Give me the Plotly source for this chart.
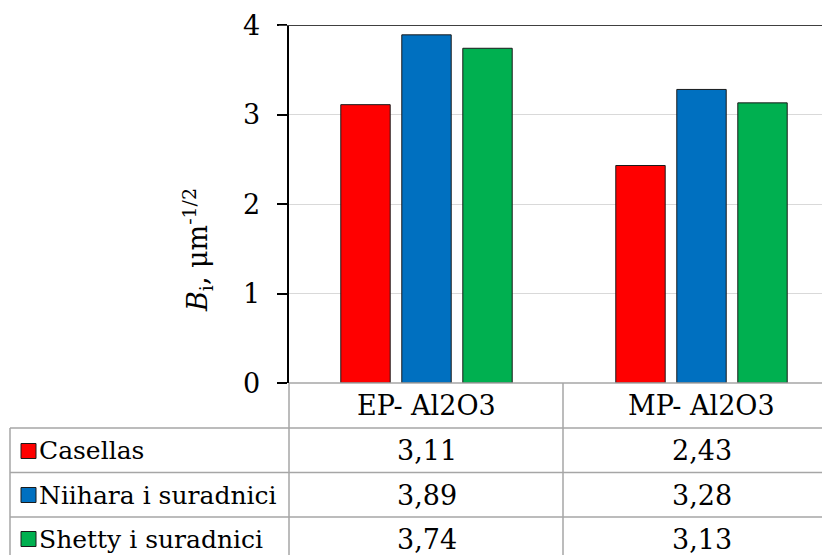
import plotly.graph_objects as go

categories = ["EP- Al2O3", "MP- Al2O3"]
series_names = ["Casellas", "Niihara i suradnici", "Shetty i suradnici"]
casellas = [3.11, 2.43]
niihara = [3.89, 3.28]
shetty = [3.74, 3.13]
series_values = [casellas, niihara, shetty]
colors = ["#FF0000", "#0070C0", "#00B050"]
y_ticks = [0, 1, 2, 3, 4]

OFF = 8  # page body margin
W, H = 830 - OFF, 555 - OFF
L, T = 289 - OFF, 25 - OFF
BOT = 383 - OFF
R = 0
B = H - BOT
PW, PH = W - L - R, H - T - B
FONT = "DejaVu Serif"
FS = 27
GRID = "#A6A6A6"

def px(x):
    return (x - OFF - L) / PW

def py(y):
    return (BOT - (y - OFF)) / PH

fig = go.Figure()
for name, vals, col in zip(series_names, series_values, colors):
    fig.add_trace(go.Bar(
        x=categories, y=vals, name=name,
        marker=dict(color=col, line=dict(color="#1a1a1a", width=1)),
        showlegend=False,
    ))

shapes = []
shapes.append(dict(type="line", xref="paper", yref="y", x0=px(279), x1=1.02, y0=4, y1=4,
                   line=dict(color="#404040", width=2)))
row_lines = [428, 472.5, 517]
for yy in row_lines:
    shapes.append(dict(type="line", xref="paper", yref="paper", x0=px(10), x1=1.02,
                       y0=py(yy), y1=py(yy), line=dict(color=GRID, width=1.5)))
shapes.append(dict(type="line", xref="paper", yref="paper", x0=px(10), x1=px(10),
                   y0=py(428), y1=py(570), line=dict(color=GRID, width=1.5)))
for xx in [289, 563]:
    shapes.append(dict(type="line", xref="paper", yref="paper", x0=px(xx), x1=px(xx),
                       y0=py(383), y1=py(570), line=dict(color=GRID, width=1.5)))
shapes.append(dict(type="line", xref="paper", yref="paper", x0=0, x1=1.02,
                   y0=0, y1=0, line=dict(color=GRID, width=1.5)))

annotations = []
tf = dict(family=FONT, size=FS, color="black")
nf = dict(family=FONT, size=25, color="black")
for t in y_ticks:
    annotations.append(dict(x=px(262), xref="paper", y=t, yref="y", text=str(t),
                            showarrow=False, font=tf, xanchor="right", yanchor="middle"))
row_centers = [451, 495, 539]
for cat in categories:
    annotations.append(dict(x=cat, xref="x", y=py(406), yref="paper", text=cat,
                            showarrow=False, font=tf, xanchor="center", yanchor="middle"))
for name, vals, col, yc in zip(series_names, series_values, colors, row_centers):
    shapes.append(dict(type="rect", xref="paper", yref="paper",
                       x0=px(21), x1=px(36), y0=py(yc - 7.5), y1=py(yc + 7.5),
                       fillcolor=col, line=dict(color="#1a1a1a", width=1)))
    annotations.append(dict(x=px(37), xref="paper", y=py(yc), yref="paper", text=name,
                            showarrow=False, font=nf, xanchor="left", yanchor="middle"))
    for cat, v in zip(categories, vals):
        annotations.append(dict(x=cat, xref="x", y=py(yc), yref="paper",
                                text=f"{v:.2f}".replace(".", ","),
                                showarrow=False, font=tf, xanchor="center", yanchor="middle"))

annotations.append(dict(x=px(197), xref="paper", y=py(250), yref="paper",
                        text="<i>B</i><sub>i</sub>, μm<sup>-1/2</sup>", textangle=-90,
                        showarrow=False, font=tf, xanchor="center", yanchor="middle"))

fig.update_layout(
    width=W, height=H,
    margin=dict(l=L, r=R, t=T, b=B, pad=0),
    paper_bgcolor="white", plot_bgcolor="white",
    barmode="group", bargap=0.3345, bargroupgap=0.19,
    shapes=shapes, annotations=annotations,
    font=tf,
)
fig.update_xaxes(type="category", range=[-0.5, -0.5 + PW / 275.0], showticklabels=False,
                 showgrid=False, zeroline=False, showline=False, ticks="")
fig.update_yaxes(range=[0, 4], tickvals=y_ticks, showticklabels=False,
                 showgrid=True, gridcolor="#D9D9D9", gridwidth=1, zeroline=False,
                 showline=True, linecolor="black", linewidth=1.5,
                 ticks="outside", ticklen=10, tickcolor="black", tickwidth=1.5)

fig.write_html("out.html")
